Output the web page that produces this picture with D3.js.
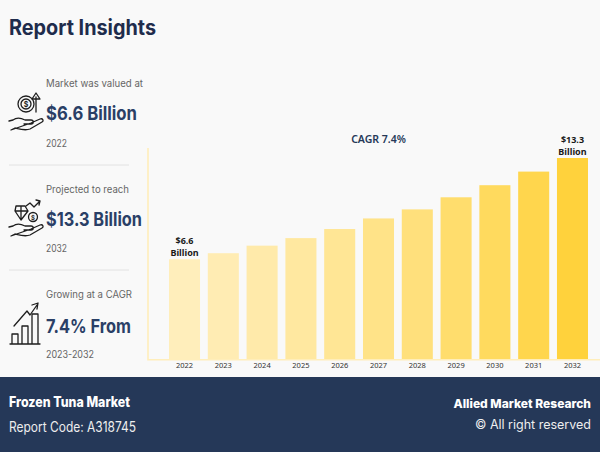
<!DOCTYPE html>
<html lang="en">
<head>
    <meta charset="utf-8">
    <title>Frozen Tuna Market</title>
    <script src="https://d3js.org/d3.v7.min.js" charset="utf-8"></script>
    <style>
        html, body { margin: 0; padding: 0; background: #f9f9f9; overflow: hidden; }
        svg { display: block; }
        .ui { font-family: Inter, "Noto Sans", sans-serif; }
        .lab { font-family: "Noto Sans", sans-serif; }
        .icon { fill: none; stroke: #1e1e1e; stroke-width: 1.3; stroke-linejoin: round; stroke-linecap: round; }
    </style>
</head>
<body>
    <script>

    var years = ["2022","2023","2024","2025","2026","2027","2028","2029","2030","2031","2032"]
    var revenue = [6.6,7.0,7.5,8.0,8.6,9.3,9.9,10.7,11.5,12.4,13.3]
    var labelled = {"2022":"$6.6","2032":"$13.3"}

    var w = 600, h = 452
    var baseY = 359
    var navy = "#253858"

    var svg = d3.select("body").append("svg").attr("width",w).attr("height",h)

    svg.append("rect").attr("width",w).attr("height",h).attr("fill","#f9f9f9")

    function txt(x,y,s,size,weight,fill,len) {
        var t = svg.append("text").attr("class","ui").attr("x",x).attr("y",y).text(s)
            .attr("font-size",size).attr("font-weight",weight).attr("fill",fill)
        if (len) t.attr("textLength",len).attr("lengthAdjust","spacingAndGlyphs")
        return t
    }

    // chart
    var x = d3.scaleBand().domain(years).range([169,588]).paddingInner(0.2)
    var y = d3.scaleLinear().domain([0,13.3]).range([baseY,158])
    var colour = d3.scaleLinear().domain([6.6,13.3]).range(["#ffeebb","#ffd23c"])

    svg.selectAll(".bar").data(years).enter().append("rect")
        .attr("class","bar")
        .attr("x",function (d) {return x(d)})
        .attr("width",x.bandwidth())
        .attr("y",function (d,i) {return y(revenue[i])})
        .attr("height",function (d,i) {return baseY-y(revenue[i])})
        .attr("fill",function (d,i) {return colour(revenue[i])})

    var axis = svg.append("g").attr("transform","translate(0,"+baseY+")")
        .call(d3.axisBottom(x).tickSize(0).tickPadding(4))
    axis.select(".domain").remove()
    axis.selectAll("text").attr("class","lab").attr("font-size",7.5).attr("fill","#333")
        .style("font-family",'"Noto Sans", sans-serif')

    svg.append("path").attr("d",d3.line()([[148,148],[148,359.7],[600,359.7]]))
        .attr("fill","none").attr("stroke","#ffeebb").attr("stroke-width",1.6)

    var notes = svg.selectAll(".note").data(years.filter(function (d) {return labelled[d]})).enter().append("text")
        .attr("class","lab note")
        .attr("text-anchor","middle")
        .attr("font-size",9).attr("font-weight",700).attr("fill","#1a1a1a")
        .attr("x",function (d) {return x(d)+x.bandwidth()/2})
        .attr("y",function (d) {return y(revenue[years.indexOf(d)])-15})
    notes.append("tspan").text(function (d) {return labelled[d]})
    notes.append("tspan").text("Billion")
        .attr("x",function (d) {return x(d)+x.bandwidth()/2}).attr("dy",11.5)

    svg.append("text").attr("class","lab").attr("x",378.5).attr("y",143).attr("text-anchor","middle")
        .attr("font-size",10.5).attr("font-weight",600).attr("fill",navy).text("CAGR 7.4%")

    // left column
    txt(9,35,"Report Insights",21,700,"#1f2c4c",147)

    txt(46,87,"Market was valued at",10,400,"#666",97)
    txt(46,120,"$6.6 Billion",19,700,"#2a3f66",91)
    txt(46,147,"2022",10,400,"#666",21)

    txt(46,193,"Projected to reach",10,400,"#666",83)
    txt(46,226,"$13.3 Billion",19,700,"#2a3f66",96)
    txt(46,252,"2032",10,400,"#666",21)

    txt(46,298,"Growing at a CAGR",10,400,"#666",86)
    txt(46,333,"7.4% From",19,700,"#2a3f66",85)
    txt(46,358,"2023-2032",10,400,"#666",48)

    svg.selectAll(".rule").data([165,270]).enter().append("line")
        .attr("x1",9).attr("x2",129).attr("y1",function (d) {return d}).attr("y2",function (d) {return d})
        .attr("stroke","#e2e2e2").attr("stroke-width",1)

    // icons
    var hand = "M0,4 L4,3 C8,0 12,1 16,3 L22,3 C25,3 25,7 22,7 L15,7 M22,6 L31,2 C34,1 35,4 33,5 L21,12 C16,14 10,12 6,11 L2,13 Z"
    var i1 = svg.append("g").attr("class","icon").attr("transform","translate(9,117)")
    i1.append("path").attr("d",hand)
    i1.append("circle").attr("cx",17).attr("cy",-13).attr("r",8)
    i1.append("circle").attr("cx",17).attr("cy",-13).attr("r",5)
    i1.append("path").attr("d","M27,-5 L27,-20 M23,-18 L27,-24 L31,-18 Z")
    svg.append("text").attr("class","ui").attr("x",26).attr("y",106.5).attr("text-anchor","middle")
        .attr("font-size",7).attr("font-weight",700).attr("fill","#1e1e1e").text("$")

    var i2 = svg.append("g").attr("class","icon").attr("transform","translate(9,223)")
    i2.append("path").attr("d",hand)
    i2.append("path").attr("d","M7,-17 L16,-17 L19,-12 L12,-3 L6,-12 Z M6,-12 L19,-12 M12,-17 L12,-3")
    i2.append("circle").attr("cx",24).attr("cy",-6).attr("r",4.5)
    i2.append("path").attr("d","M17,-17 L21,-20 L25,-16 L31,-22 M27,-23 L31,-22 L30,-18")
    svg.append("text").attr("class","ui").attr("x",33).attr("y",219.5).attr("text-anchor","middle")
        .attr("font-size",6).attr("font-weight",700).attr("fill","#1e1e1e").text("$")

    var i3 = svg.append("g").attr("class","icon").attr("transform","translate(10,344)")
    i3.append("path").attr("d","M0,0 L30,0 M2,0 L2,-10 L8,-10 L8,0 M12,0 L12,-18 L18,-18 L18,0 M22,0 L22,-30 L28,-30 L28,0")
    i3.append("path").attr("d","M4,-18 L17,-33 L20,-29 L27,-39 M22,-39 L28,-41 L27,-35")

    // footer
    svg.append("rect").attr("x",0).attr("y",377).attr("width",w).attr("height",h-377).attr("fill",navy)
    txt(9,407,"Frozen Tuna Market",14,800,"#fff",121)
    txt(9,432,"Report Code: A318745",14,400,"#eee",127)
    txt(591,408,"Allied Market Research",12,800,"#fff").attr("text-anchor","end")
    txt(591,429,"© All right reserved",12.5,400,"#eee").attr("text-anchor","end")

    </script>
</body>
</html>
